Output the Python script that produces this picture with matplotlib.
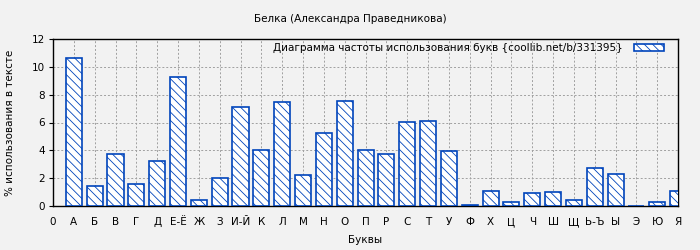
import matplotlib
matplotlib.use("Agg")
import matplotlib.pyplot as plt

plt.rcParams['font.family'] = ['DejaVu Sans']
plt.rcParams['hatch.color'] = '#0044bb'
plt.rcParams['hatch.linewidth'] = 0.6

letters = ['А', 'Б', 'В', 'Г', 'Д', 'Е-Ё', 'Ж', 'З', 'И-Й', 'К', 'Л', 'М', 'Н', 'О',
           'П', 'Р', 'С', 'Т', 'У', 'Ф', 'Х', 'Ц', 'Ч', 'Ш', 'Щ', 'Ь-Ъ', 'Ы', 'Э', 'Ю', 'Я']
values = [10.61, 1.41, 3.71, 1.56, 3.21, 9.25, 0.41, 1.99, 7.09, 4.0, 7.45, 2.2, 5.22, 7.52,
          4.0, 3.71, 6.01, 6.08, 3.95, 0.05, 1.05, 0.26, 0.91, 0.98, 0.41, 2.7, 2.27, 0.0, 0.26, 1.05]
tick_labels = ['0'] + letters
y_ticks = [0, 2, 4, 6, 8, 10, 12]

title = 'Белка (Александра Праведникова)'
legend_label = 'Диаграмма частоты использования букв {coollib.net/b/331395}'

fig = plt.figure(figsize=(7, 2.5), dpi=100, facecolor='#f2f2f2')
ax = fig.add_axes([0.0757, 0.176, 0.893, 0.668])
ax.set_facecolor('#f2f2f2')

hatch_pattern = '\\' * 4

positions = list(range(1, len(letters) + 1))
ax.bar(positions, values, width=0.77, color='white', edgecolor='#0044bb',
       linewidth=1.2, hatch=hatch_pattern, label=legend_label, zorder=3)

ax.set_xlim(0, 30)
ax.set_ylim(0, 12)
ax.set_xticks(list(range(0, len(letters) + 1)))
ax.set_xticklabels(tick_labels, fontsize=7.5)
ax.set_yticks(y_ticks)
ax.set_yticklabels([str(v) for v in y_ticks], fontsize=7.5)
ax.tick_params(axis='both', direction='out', length=3, width=0.8, color='black', pad=3)
ax.tick_params(axis='x', length=0, pad=8)

ax.grid(True, color='#a0a0a0', linestyle=(0, (2, 2)), linewidth=0.7, zorder=0)
ax.set_axisbelow(True)
for s in ax.spines.values():
    s.set_linewidth(1.0)
    s.set_color('black')

ax.set_xlabel('Буквы', fontsize=7.5, labelpad=6)
ax.set_ylabel('% использования в тексте', fontsize=7.5, labelpad=12)
fig.text(0.5, 0.924, title, ha='center', va='center', fontsize=7.5)

leg = ax.legend(loc='upper right', bbox_to_anchor=(1 - 14 / 625.0, 1 - 4 / 167.0),
                frameon=False, fontsize=7.5, markerfirst=False,
                handlelength=2.9, handleheight=0.7, borderaxespad=0, borderpad=0,
                handletextpad=1.05)

fig.savefig('out.png', dpi=100, facecolor=fig.get_facecolor())
